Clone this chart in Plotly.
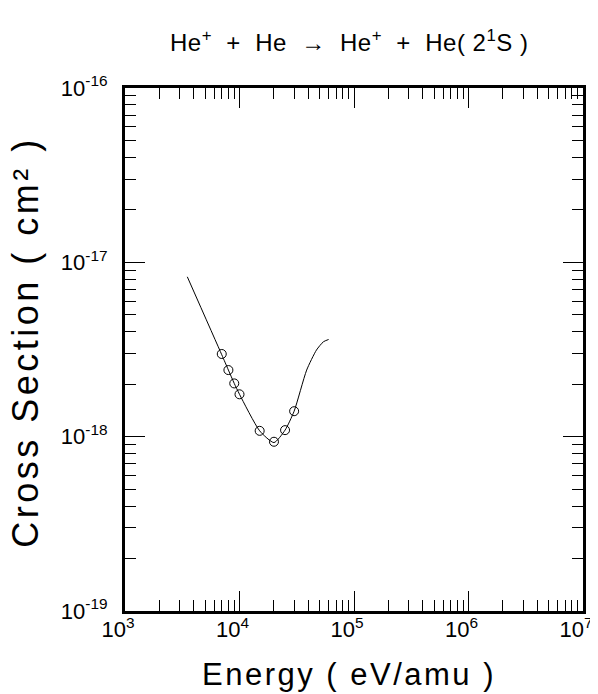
import plotly.graph_objects as go

# ---- data ----
curve_energy = [3500, 7000, 8000, 9000, 10000, 15000, 20000, 25000, 30000, 38600, 47000, 54000, 60000]
curve_sigma = [8.26e-18, 2.95e-18, 2.41e-18, 2.02e-18, 1.75e-18, 1.08e-18, 0.925e-18, 1.09e-18,
               1.40e-18, 2.41e-18, 3.14e-18, 3.50e-18, 3.61e-18]

point_energy = [7000, 8000, 9000, 10000, 15000, 20000, 25000, 30000]
point_sigma = [2.98e-18, 2.41e-18, 2.02e-18, 1.75e-18, 1.08e-18, 0.935e-18, 1.09e-18, 1.40e-18]

x_tick_vals = [1e3, 1e4, 1e5, 1e6, 1e7]
x_tick_text = ["10<sup>3</sup>", "10<sup>4</sup>", "10<sup>5</sup>", "10<sup>6</sup>", "10<sup>7</sup>"]
y_tick_vals = [1e-19, 1e-18, 1e-17, 1e-16]
y_tick_text = ["10<sup>-19</sup>", "10<sup>-18</sup>", "10<sup>-17</sup>", "10<sup>-16</sup>"]

title_text = "He<sup>+</sup>  +  He  \u2192  He<sup>+</sup>  +  He( 2<sup>1</sup>S )"
x_title = "Energy ( eV/amu )"
y_title = "Cross Section ( cm\u00b2 )"

x_minor = [m * 10 ** k for k in range(3, 7) for m in range(2, 10)]
y_minor = [m * 10.0 ** k for k in range(-19, -16) for m in range(2, 10)]

FONT = "Liberation Sans, Arial, sans-serif"


def spaced(text, px):
    return "<span style='letter-spacing:%spx'>%s</span>" % (px, text)


fig = go.Figure()
fig.add_trace(go.Scatter(
    x=curve_energy, y=curve_sigma, mode="lines",
    line=dict(color="black", width=1, shape="spline", smoothing=0.6),
    showlegend=False, hoverinfo="skip"))
fig.add_trace(go.Scatter(
    x=point_energy, y=point_sigma, mode="markers",
    marker=dict(symbol="circle-open", size=9, color="black", line=dict(width=1, color="black")),
    showlegend=False))

axis_common = dict(
    showline=True, linecolor="black", linewidth=3, mirror="ticks",
    ticks="inside", ticklen=20, tickwidth=1, tickcolor="black",
    showgrid=False, zeroline=False, ticklabeloverflow="allow", automargin=False,
    tickfont=dict(family=FONT, size=22, color="black"),
)

fig.update_xaxes(
    type="log", range=[3, 7], tickvals=x_tick_vals, ticktext=x_tick_text,
    minor=dict(ticks="inside", ticklen=11, tickwidth=1, tickcolor="black",
               tickvals=x_minor, showgrid=False),
    ticklabelstandoff=-3, ticklabelshift=-7,
    **axis_common)
fig.update_yaxes(
    type="log", range=[-19, -16], tickvals=y_tick_vals, ticktext=y_tick_text,
    minor=dict(ticks="inside", ticklen=11, tickwidth=1, tickcolor="black",
               tickvals=y_minor, showgrid=False),
    ticklabelstandoff=10,
    **axis_common)

# page has an 8px body margin: figure is shrunk/shifted so the plot box lands at
# x 125..583, y 88..611 of the window
fig.update_layout(
    width=590, height=686,
    margin=dict(l=117, r=15, t=80, b=83, autoexpand=False),
    paper_bgcolor="white", plot_bgcolor="white",
    font=dict(family=FONT, color="black"),
    annotations=[
        dict(text=spaced(title_text, 0.5), xref="paper", yref="paper", x=0.489, y=1.09,
             xanchor="center", yanchor="middle", showarrow=False,
             font=dict(family=FONT, size=24, color="black")),
        dict(text=spaced(x_title, 2.5), xref="paper", yref="paper", x=0.489, y=-0.1205,
             xanchor="center", yanchor="middle", showarrow=False,
             font=dict(family=FONT, size=31, color="black")),
        dict(text=spaced(y_title, 3.5), xref="paper", yref="paper", x=-0.218, y=0.515,
             xanchor="center", yanchor="middle", showarrow=False, textangle=-90,
             font=dict(family=FONT, size=36, color="black")),
    ],
)

fig.write_html("out.html")
